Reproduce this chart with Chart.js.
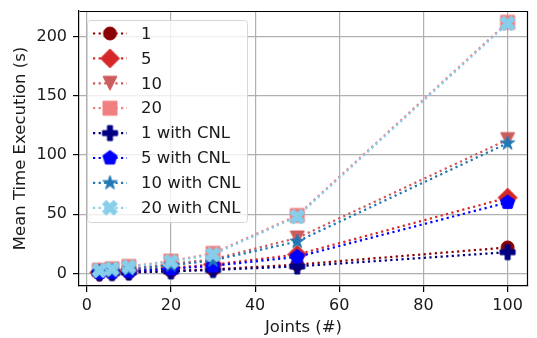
<!DOCTYPE html>
<html>
<head>
<meta charset="utf-8">
<script src="https://cdn.jsdelivr.net/npm/chart.js@4/dist/chart.umd.min.js"></script>
<style>
  html, body { margin: 0; padding: 0; background: #fff; }
  #wrap { width: 537px; height: 338px; }
</style>
</head>
<body>
<div id="wrap"><canvas id="c"></canvas></div>
<script>
// joints on the x axis
const joints = [3, 6, 10, 20, 30, 50, 100];

// mean execution time (s) per configuration
const t1 = [0.5, 0.7, 1.0, 2.2, 3.5, 7.5, 22];
const t5 = [1.0, 1.5, 2.3, 4.8, 7.5, 16, 64];
const t10 = [1.6, 2.4, 3.8, 8.0, 12, 30, 113];
const t20 = [2.8, 4.0, 6.0, 10.5, 17, 49, 212];
const t1cnl = [0.3, 0.5, 0.8, 1.8, 3.0, 6.0, 18];
const t5cnl = [0.8, 1.2, 2.0, 4.0, 6.5, 14, 60];
const t10cnl = [1.4, 2.1, 3.4, 7.0, 11, 27, 110];
const t20cnl = [2.7, 3.8, 5.6, 10, 16, 48, 211];

const labels = ['1', '5', '10', '20', '1 with CNL', '5 with CNL', '10 with CNL', '20 with CNL'];
const xTicks = [0, 20, 40, 60, 80, 100];
const yTicks = [0, 50, 100, 150, 200];

const FONT = "'DejaVu Sans', sans-serif";
const TEXT = '#1a1a1a';

// draw a filled matplotlib-like marker on its own little canvas
function makeMarker(shape, color, size) {
  const pad = 2;
  const c = document.createElement('canvas');
  c.width = c.height = Math.ceil(size + pad * 2);
  const ctx = c.getContext('2d');
  const r = size / 2;
  ctx.translate(c.width / 2, c.height / 2);
  ctx.beginPath();
  let pts = null;
  if (shape == 'circle') {
    ctx.arc(0, 0, r, 0, Math.PI * 2);
  } else if (shape == 'diamond') {
    pts = [[0, -r], [r, 0], [0, r], [-r, 0]];
  } else if (shape == 'tridown') {
    pts = [[0, r], [-r, -r], [r, -r]];
  } else if (shape == 'square') {
    pts = [[-r, -r], [r, -r], [r, r], [-r, r]];
  } else if (shape == 'plus') {
    const k = r / 3;
    pts = [[-1, -3], [1, -3], [1, -1], [3, -1], [3, 1], [1, 1], [1, 3], [-1, 3], [-1, 1], [-3, 1], [-3, -1], [-1, -1]]
      .map(p => [p[0] * k, p[1] * k]);
  } else if (shape == 'pentagon') {
    pts = [];
    for (let i = 0; i < 5; i++) {
      const a = -Math.PI / 2 + i * 2 * Math.PI / 5;
      pts.push([r * Math.cos(a), r * Math.sin(a)]);
    }
  } else if (shape == 'star') {
    pts = [];
    for (let i = 0; i < 10; i++) {
      const a = -Math.PI / 2 + i * Math.PI / 5;
      const rr = i % 2 ? r * 0.381966 : r;
      pts.push([rr * Math.cos(a), rr * Math.sin(a)]);
    }
  } else if (shape == 'x') {
    const k = r / 2;
    pts = [[-1, -2], [0, -1], [1, -2], [2, -1], [1, 0], [2, 1], [1, 2], [0, 1], [-1, 2], [-2, 1], [-1, 0], [-2, -1]]
      .map(p => [p[0] * k, p[1] * k]);
  }
  if (pts) {
    ctx.moveTo(pts[0][0], pts[0][1]);
    for (let i = 1; i < pts.length; i++) ctx.lineTo(pts[i][0], pts[i][1]);
    ctx.closePath();
  }
  ctx.fillStyle = color;
  ctx.strokeStyle = color;
  ctx.lineWidth = 1;
  ctx.fill();
  ctx.stroke();
  return c;
}

const series = [
  { data: t1, color: '#8b0000', shape: 'circle', size: 13 },
  { data: t5, color: '#d62728', shape: 'diamond', size: 19 },
  { data: t10, color: '#cd5c5c', shape: 'tridown', size: 14 },
  { data: t20, color: '#f08080', shape: 'square', size: 14 },
  { data: t1cnl, color: '#000080', shape: 'plus', size: 15 },
  { data: t5cnl, color: '#0000ff', shape: 'pentagon', size: 15 },
  { data: t10cnl, color: '#1f77b4', shape: 'star', size: 15 },
  { data: t20cnl, color: '#87ceeb', shape: 'x', size: 15 }
];

const datasets = series.map((s, i) => {
  const marker = makeMarker(s.shape, s.color, s.size);
  return {
    label: labels[i],
    data: joints.map((x, j) => ({ x: x, y: s.data[j] })),
    borderColor: s.color,
    backgroundColor: s.color,
    borderWidth: 2.2,
    borderDash: [2.2, 3.4],
    borderCapStyle: 'butt',
    pointStyle: marker,
    pointRadius: 6,
    tension: 0,
    fill: false,
    order: series.length - i
  };
});

// top and right spines
const frame = {
  id: 'frame',
  afterDatasetsDraw(chart) {
    const a = chart.chartArea, ctx = chart.ctx;
    ctx.save();
    ctx.strokeStyle = '#000';
    ctx.lineWidth = 1.2;
    ctx.beginPath();
    ctx.moveTo(Math.round(a.left) + 0.5, Math.round(a.top) + 0.5);
    ctx.lineTo(Math.round(a.right) - 0.5, Math.round(a.top) + 0.5);
    ctx.lineTo(Math.round(a.right) - 0.5, Math.round(a.bottom) - 0.5);
    ctx.stroke();
    ctx.restore();
  }
};

// legend boxed inside the upper left of the axes
const innerLegend = {
  id: 'innerLegend',
  afterDraw(chart) {
    const a = chart.chartArea, ctx = chart.ctx;
    const x0 = a.left + 8, y0 = a.top + 9, w = 160, h = 202, rowH = 24.9;
    ctx.save();
    ctx.beginPath();
    ctx.roundRect(x0 + 0.5, y0 + 0.5, w, h, 3);
    ctx.fillStyle = 'rgba(255,255,255,0.8)';
    ctx.fill();
    ctx.strokeStyle = '#d6d6d6';
    ctx.lineWidth = 1;
    ctx.stroke();
    chart.data.datasets.forEach((ds, i) => {
      const cy = y0 + 13.5 + i * rowH;
      ctx.beginPath();
      ctx.setLineDash(ds.borderDash);
      ctx.strokeStyle = ds.borderColor;
      ctx.lineWidth = ds.borderWidth;
      ctx.moveTo(x0 + 6, cy);
      ctx.lineTo(x0 + 40, cy);
      ctx.stroke();
      ctx.setLineDash([]);
      const m = ds.pointStyle;
      ctx.drawImage(m, x0 + 23 - m.width / 2, cy - m.height / 2);
      ctx.fillStyle = TEXT;
      ctx.font = '16.5px ' + FONT;
      ctx.textBaseline = 'middle';
      ctx.fillText(ds.label, x0 + 54, cy + 1);
    });
    ctx.restore();
  }
};

// keep the plot box where the reference has it, without label overflow padding
function noPad(s) {
  s.paddingTop = 0;
  s.paddingBottom = 0;
  s.paddingLeft = 0;
  s.paddingRight = 0;
}

new Chart(document.getElementById('c'), {
  type: 'line',
  data: { datasets: datasets },
  plugins: [frame, innerLegend],
  options: {
    responsive: true,
    maintainAspectRatio: false,
    animation: false,
    events: [],
    layout: { padding: { left: 0, top: 11, right: 9, bottom: 0 } },
    plugins: { legend: { display: false }, tooltip: { enabled: false } },
    scales: {
      x: {
        type: 'linear',
        min: -1.85,
        max: 104.85,
        afterBuildTicks: s => { s.ticks = xTicks.map(v => ({ value: v })); },
        afterFit: s => { s.height = 52; noPad(s); },
        grid: { color: '#b0b0b0', lineWidth: 1.2, tickColor: '#000', tickLength: 6, drawTicks: true },
        border: { display: true, color: '#000', width: 1.2 },
        ticks: { color: TEXT, font: { family: FONT, size: 16 }, padding: 4, maxRotation: 0 },
        title: { display: true, text: 'Joints (#)', color: TEXT, font: { family: FONT, size: 16.5 }, padding: { top: 0, bottom: 0 } }
      },
      y: {
        type: 'linear',
        min: -10.55,
        max: 221.55,
        afterBuildTicks: s => { s.ticks = yTicks.map(v => ({ value: v })); },
        afterFit: s => { s.width = 79; noPad(s); },
        grid: { color: '#b0b0b0', lineWidth: 1.2, tickColor: '#000', tickLength: 6, drawTicks: true },
        border: { display: true, color: '#000', width: 1.2 },
        ticks: { color: TEXT, font: { family: FONT, size: 16 }, padding: 6 },
        title: { display: true, text: 'Mean Time Execution (s)', color: TEXT, font: { family: FONT, size: 16.5 }, padding: { top: 11, bottom: 0 } }
      }
    }
  }
});
</script>
</body>
</html>
